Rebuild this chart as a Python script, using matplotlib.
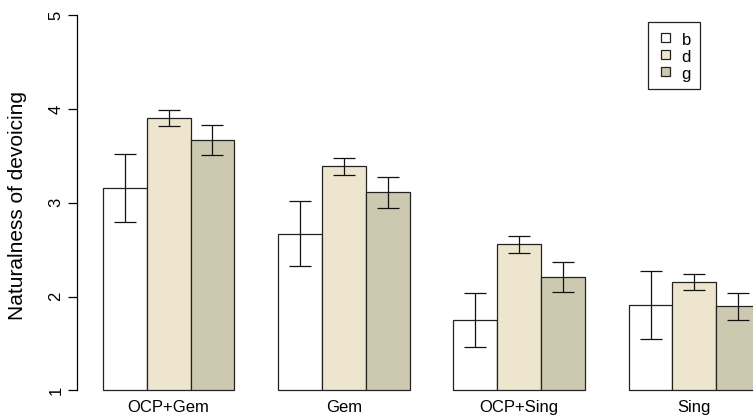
#!/usr/bin/env python3
"""Naturalness of devoicing by context and consonant (b/d/g), R-barplot look."""
import numpy as np
import matplotlib
matplotlib.use("Agg")
import matplotlib.pyplot as plt
from matplotlib.patches import Rectangle

plt.rcParams["font.family"] = ["Liberation Sans", "DejaVu Sans"]

CONTEXTS = ["OCP+Gem", "Gem", "OCP+Sing", "Sing"]
CONSONANTS = ["b", "d", "g"]
MEAN_B = [3.16, 2.67, 1.75, 1.91]
MEAN_D = [3.905, 3.39, 2.557, 2.157]
MEAN_G = [3.667, 3.112, 2.21, 1.898]
ERR_B = [0.36, 0.345, 0.29, 0.36]
ERR_D = [0.083, 0.092, 0.093, 0.087]
ERR_G = [0.159, 0.167, 0.16, 0.144]
COLORS = ["#FFFFFF", "#EDE5CD", "#CDC9B1"]
BASE = 1

W, H = 753, 419
fig = plt.figure(figsize=(W / 100, H / 100), dpi=100)
# plot region in pixels: x 76.7 .. 786.3 (runs past the right edge), y 0 .. 405.5
ax = fig.add_axes([76.7 / W, (H - 405.5) / H, 709.6 / W, 405.4 / H])

means = [MEAN_B, MEAN_D, MEAN_G]
errs = [ERR_B, ERR_D, ERR_G]
group_starts = np.arange(len(CONTEXTS)) * 4 + 1  # R beside=TRUE, space=c(0,1)
for k in range(len(CONSONANTS)):
    lefts = group_starts + k
    m = np.array(means[k])
    ax.bar(lefts, m - BASE, bottom=BASE, width=1, align="edge",
           color=COLORS[k], edgecolor="#222222", linewidth=0.9, zorder=2)
    ax.errorbar(lefts + 0.5, m, yerr=errs[k], fmt="none", ecolor="#111111",
                elinewidth=0.9, capsize=8.2, capthick=0.9, zorder=3)

ax.set_xlim(0.4, 16.6)
ax.set_ylim(0.84, 5.16)

for s in ["top", "right", "bottom"]:
    ax.spines[s].set_visible(False)
ax.spines["left"].set_bounds(1, 5)
ax.spines["left"].set_linewidth(0.9)
ax.set_xticks([])
ax.set_yticks([1, 2, 3, 4, 5])
ax.tick_params(axis="y", length=6.5, width=0.9, pad=3, labelsize=12,
               labelrotation=90)
for t in ax.get_yticklabels():
    t.set_va("center")

for i, name in enumerate(CONTEXTS):
    ax.text(group_starts[i] + 1.5, 0.768, name, ha="center", va="baseline",
            fontsize=12, clip_on=False)

fig.text(18 / W, (H - 205) / H, "Naturalness of devoicing", rotation=90,
         ha="center", va="center", fontsize=15)

# legend box, drawn in figure pixels like R's legend()
def px(x, y):
    return x / W, (H - y) / H

bx0, by0 = px(648, 89)
fig.patches.append(Rectangle((bx0, by0), 52 / W, 67 / H, transform=fig.transFigure,
                             facecolor="white", edgecolor="#222222", linewidth=0.9))
for k, lab in enumerate(CONSONANTS):
    cy = 38 + 17 * k
    sx, sy = px(660.7, cy + 4.5)
    fig.patches.append(Rectangle((sx, sy), 9 / W, 9 / H, transform=fig.transFigure,
                                 facecolor=COLORS[k], edgecolor="#222222",
                                 linewidth=0.9))
    tx, ty = px(681.5, cy + 7)
    fig.text(tx, ty, lab, ha="left", va="baseline", fontsize=12)

fig.savefig("out.png", dpi=100)
